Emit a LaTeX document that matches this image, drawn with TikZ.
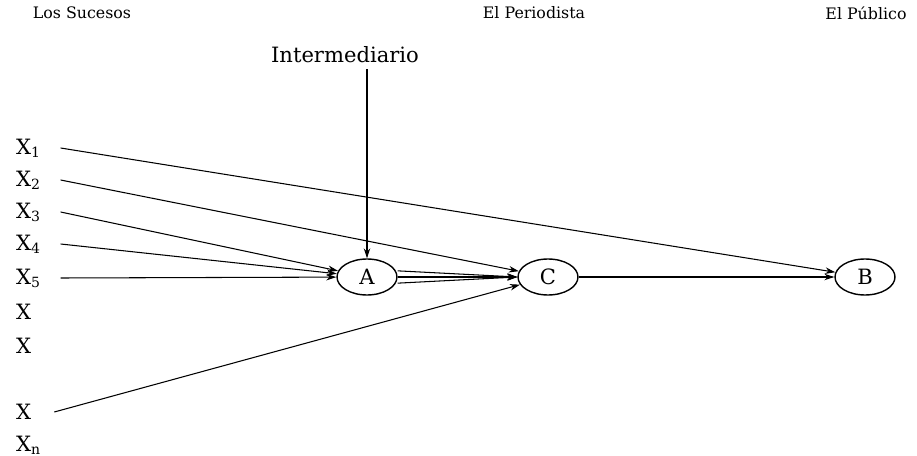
\documentclass[tikz,border=0pt]{standalone}
\usepackage{fontspec}
\setmainfont{DejaVu Serif}
\usetikzlibrary{positioning,arrows.meta,shapes.geometric}

\begin{document}
\begin{tikzpicture}[x=0.02cm,y=-0.02cm,>={Stealth[length=2mm,width=1.3mm]},
  agent/.style={ellipse,draw,thick,minimum width=1.2cm,minimum height=0.72cm,inner sep=0pt,font=\large},
  head/.style={font=\small},
  var/.style={anchor=west,inner sep=1pt,font=\large},
  arc/.style={->,semithick}]
  \useasboundingbox (0,0) rectangle (917,456);
  % column headings
  \node[head] (suc) at (82,13) {Los Sucesos};
  \node[head] (per) at (534,13) {El Periodista};
  \node[head] (pub) at (866,13) {El Público};
  \node[head,font=\large] (int) at (345,55) {Intermediario};
  % the three agents
  \node[agent] (A) at (367,277) {A};
  \node[agent] (C) at (548,277) {C};
  \node[agent] (B) at (865,277) {B};
  % the events on the left
  \node[var] (x1) at (14,148) {X\textsubscript{1}};
  \node[var] (x2) at (14,180) {X\textsubscript{2}};
  \node[var] (x3) at (14,212) {X\textsubscript{3}};
  \node[var] (x4) at (14,244) {X\textsubscript{4}};
  \node[var] (x5) at (14,278) {X\textsubscript{5}};
  \node[var] (x6) at (14,312) {X};
  \node[var] (x7) at (14,346) {X};
  \node[var] (x8) at (14,412) {X};
  \node[var] (xn) at (14,445) {X\textsubscript{n}};
  \draw[arc] ([xshift=10pt]x1.east) -- (B);
  \draw[arc] ([xshift=10pt]x2.east) -- (C);
  \draw[arc] ([xshift=10pt]x3.east) -- (A);
  \draw[arc] ([xshift=10pt]x4.east) -- (A);
  \draw[arc] ([xshift=10pt]x5.east) -- (A);
  \draw[arc] ([xshift=12pt]x8.east) -- (C);
  \draw[arc] (int.south -| A) -- (A);
  % A passes the news to C along three lines
  \draw[arc] ([yshift=3.5pt]A.east) -- (C.west);
  \draw[arc] (A.east) -- (C.west);
  \draw[arc] ([yshift=-3.5pt]A.east) -- (C.west);
  \draw[arc] (C) -- (B);
\end{tikzpicture}
\end{document}
